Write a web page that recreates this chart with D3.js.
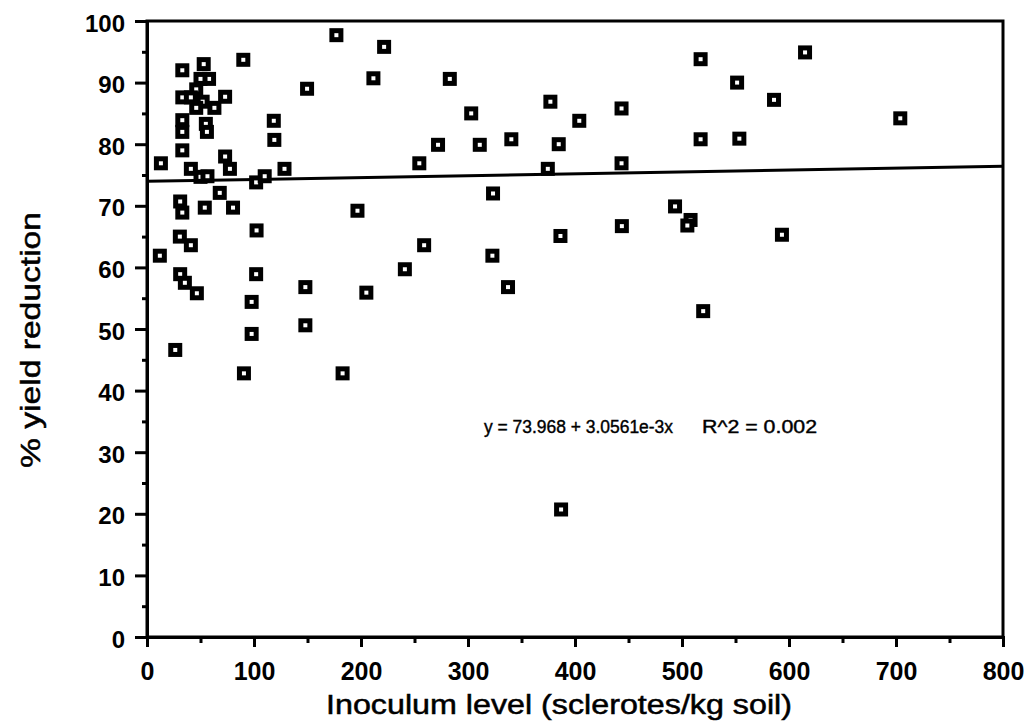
<!DOCTYPE html>
<html>
<head>
<meta charset="utf-8">
<script src="https://cdn.jsdelivr.net/npm/d3@7"></script>
<style>
  body { margin: 0; background: #fff; }
  svg { display: block; font-family: "Liberation Sans", Arial, Helvetica, sans-serif; }
</style>
</head>
<body>
<div id="chart"></div>
<script>
// inoculum level (sclerotes/kg soil)
var inoculum = [13, 12, 33, 53, 58, 50, 90, 46, 73, 33, 41, 52, 63, 46, 33, 33, 55, 56, 33, 41,
  73, 77.5, 50, 56.5, 102, 110, 128.5, 118.5, 119, 149.6, 177, 221.6, 211.6, 254.5, 272,
  31, 33, 54, 68, 80.4, 102.4, 196.7, 30.7, 41, 259, 241, 31, 35.4, 46.6, 102, 148, 205,
  97.8, 148, 97.8, 26.4, 90.6, 182.8, 283, 517.4, 303, 377, 443.5, 404, 311, 340.5, 384.8,
  517.4, 374.6, 443.5, 323.4, 493.5, 508, 505, 443.8, 386.4, 322.8, 337.4, 519.8, 387,
  615, 551.5, 586, 704, 553.6, 593.4];

// % yield reduction
var yieldRed = [76.9, 61.9, 92, 93, 90.6, 90.6, 93.7, 88.9, 87.7, 87.6, 87.6, 86.9, 85.9, 85.9, 83.9, 82, 83.3, 82, 79, 76,
  78, 76, 74.7, 74.8, 73.8, 74.8, 76, 83.8, 80.7, 89, 97.7, 95.8, 90.7, 76.9, 79.9,
  70.7, 68.9, 69.7, 72.1, 69.7, 66, 69.2, 65, 63.6, 63.6, 59.7, 58.9, 57.5, 55.8, 58.9, 56.8, 55.9,
  54.4, 50.6, 49.2, 46.6, 42.8, 42.8, 90.6, 93.8, 85, 86.9, 85.8, 83.8, 79.9, 80.8, 80,
  80.8, 76, 76.9, 72, 69.9, 67.7, 66.8, 66.7, 65.1, 61.9, 56.8, 52.9, 20.7,
  94.9, 90, 87.2, 84.2, 80.9, 65.3];

var xTicks = d3.range(0, 801, 50);
var yTicks = d3.range(0, 101, 5);

// fitted line y = a + b x
var fitA = 73.968, fitB = 3.0561e-3;
var fitText = "y = 73.968 + 3.0561e-3x";
var r2Text = "R^2 = 0.002";

var points = inoculum.map(function (d, i) { return {x: d, y: yieldRed[i]}; });

var width = 1027, height = 727;
var margin = {top: 21, right: 24, bottom: 90, left: 147};

var svg = d3.select("#chart").append("svg")
  .attr("width", width)
  .attr("height", height);

var x = d3.scaleLinear().domain([0, 800]).range([margin.left, width - margin.right]);
var y = d3.scaleLinear().domain([0, 100]).range([height - margin.bottom, margin.top]);

// frame (top and right sides)
svg.append("rect")
  .attr("x", x(0)).attr("y", y(100))
  .attr("width", x(800) - x(0)).attr("height", y(0) - y(100))
  .attr("fill", "none").attr("stroke", "#000").attr("stroke-width", 3);

// x axis
var xAxis = svg.append("g")
  .attr("transform", "translate(0," + y(0) + ")")
  .call(d3.axisBottom(x).tickValues(xTicks)
    .tickFormat(function (d) { return d % 100 === 0 ? d : ""; })
    .tickSize(10));
xAxis.select(".domain").attr("stroke-width", 3);
xAxis.selectAll(".tick line")
  .attr("stroke-width", 3)
  .attr("y2", function (d) { return d % 100 === 0 ? 10 : 6; });
xAxis.selectAll(".tick text")
  .attr("y", 43).attr("dy", 0)
  .attr("font-size", 25).attr("font-weight", "bold")
  .attr("font-family", "Liberation Sans, Arial, sans-serif")
  .attr("fill", "#000");

// y axis
var yAxis = svg.append("g")
  .attr("transform", "translate(" + x(0) + ",0)")
  .call(d3.axisLeft(y).tickValues(yTicks)
    .tickFormat(function (d) { return d % 10 === 0 ? d : ""; })
    .tickSize(12));
yAxis.select(".domain").attr("stroke-width", 3);
yAxis.selectAll(".tick line")
  .attr("stroke-width", 3)
  .attr("x2", function (d) { return d % 10 === 0 ? -12 : -5; });
yAxis.selectAll(".tick text")
  .attr("x", -22).attr("dy", "0.42em")
  .attr("font-size", 24).attr("font-weight", "bold")
  .attr("font-family", "Liberation Sans, Arial, sans-serif")
  .attr("fill", "#000");

// regression line
svg.append("line")
  .attr("x1", x(0)).attr("y1", y(fitA))
  .attr("x2", x(800)).attr("y2", y(fitA + fitB * 800))
  .attr("stroke", "#000").attr("stroke-width", 3);

// points: black square with small white centre
svg.append("g").selectAll("rect")
  .data(points)
  .enter()
  .append("rect")
  .attr("x", function (d) { return x(d.x) - 4.5; })
  .attr("y", function (d) { return y(d.y) - 4.5; })
  .attr("width", 9).attr("height", 9)
  .attr("fill", "#fff").attr("stroke", "#000").attr("stroke-width", 5);

// equation
svg.append("text")
  .attr("x", 484).attr("y", 433)
  .attr("font-size", 18)
  .attr("stroke", "#000").attr("stroke-width", 0.4)
  .attr("textLength", 189).attr("lengthAdjust", "spacingAndGlyphs")
  .text(fitText);
svg.append("text")
  .attr("x", 702).attr("y", 433)
  .attr("font-size", 18)
  .attr("stroke", "#000").attr("stroke-width", 0.4)
  .attr("textLength", 115).attr("lengthAdjust", "spacingAndGlyphs")
  .text(r2Text);

// axis titles
svg.append("text")
  .attr("x", 326).attr("y", 714)
  .attr("font-size", 27)
  .attr("stroke", "#000").attr("stroke-width", 0.5)
  .attr("textLength", 466).attr("lengthAdjust", "spacingAndGlyphs")
  .text("Inoculum level (sclerotes/kg soil)");

svg.append("text")
  .attr("transform", "translate(40,468) rotate(-90)")
  .attr("font-size", 28)
  .attr("stroke", "#000").attr("stroke-width", 0.5)
  .attr("textLength", 256).attr("lengthAdjust", "spacingAndGlyphs")
  .text("% yield reduction");
</script>
</body>
</html>
